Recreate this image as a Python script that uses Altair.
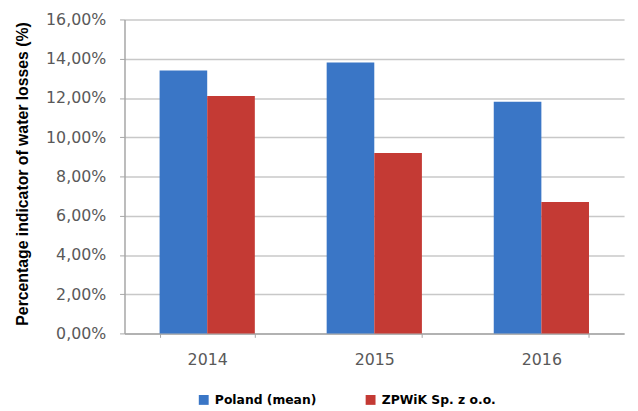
import altair as alt
import pandas as pd

years = ["2014", "2015", "2016"]
series = ["Poland (mean)", "ZPWiK Sp. z o.o."]
poland = [0.134, 0.138, 0.118]
zpwik = [0.121, 0.092, 0.067]
colors = ["#3A76C6", "#C43A34"]

rows = []
for i, y in enumerate(years):
    rows.append({"year": y, "series": series[0], "value": poland[i]})
    rows.append({"year": y, "series": series[1], "value": zpwik[i]})
df = pd.DataFrame(rows)

chart = alt.Chart(df).mark_bar().encode(
    x=alt.X("year:N", title=None,
            scale=alt.Scale(paddingInner=0.43, paddingOuter=0.21),
            axis=alt.Axis(labelAngle=0, labelFont="DejaVu Sans", labelFontSize=16,
                          labelColor="#595959", labelPadding=14, tickBand="extent",
                          tickSize=4, tickColor="#a6a6a6", domainColor="#a6a6a6",
                          domainWidth=1.5, grid=False)),
    xOffset=alt.XOffset("series:N", sort=series),
    y=alt.Y("value:Q", title="Percentage indicator of water losses (%)",
            scale=alt.Scale(domain=[0, 0.16], nice=False),
            axis=alt.Axis(values=[0, 0.02, 0.04, 0.06, 0.08, 0.10, 0.12, 0.14, 0.16],
                          labelExpr="replace(format(datum.value, '.2%'), '.', ',')",
                          labelFont="DejaVu Sans", labelFontSize=16, labelColor="#595959",
                          labelPadding=14, tickSize=5, tickColor="#a6a6a6",
                          domainColor="#a6a6a6", domainWidth=1.5,
                          gridColor="#c8c8c8", gridWidth=1.5,
                          titleFont="Liberation Sans", titleFontSize=16,
                          titleFontWeight="bold", titleColor="#000000",
                          titleX=-103, titleY=156, titleAngle=270,
                          titleAlign="center", titleBaseline="middle")),
    color=alt.Color("series:N", sort=series,
                    scale=alt.Scale(domain=series, range=colors),
                    legend=alt.Legend(title=None, orient="none", legendX=74, legendY=379,
                                      direction="horizontal", columns=2,
                                      symbolType="square", symbolSize=100,
                                      symbolStrokeWidth=0, labelOffset=5,
                                      columnPadding=48,
                                      labelFont="DejaVu Sans", labelFontSize=12.5,
                                      labelFontWeight="bold", labelColor="#000000")),
).properties(
    width=506, height=318,
    autosize=alt.AutoSizeParams(type="none"),
    padding={"left": 118, "top": 9, "right": 6, "bottom": 76},
).configure_view(stroke=None)

chart.save("out.html", embed_options={"renderer": "svg", "actions": False})
